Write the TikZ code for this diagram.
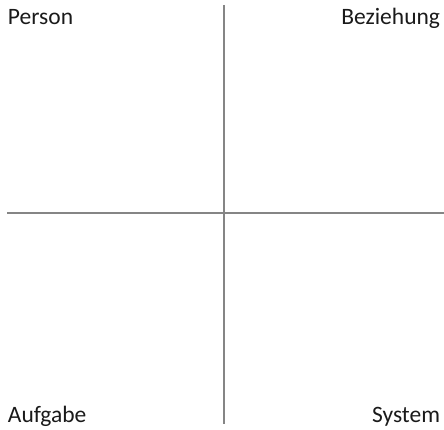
\documentclass[tikz,border=0pt]{standalone}
\usepackage{fontspec}
\setmainfont{Carlito}
\definecolor{axisgray}{HTML}{858585}
\definecolor{textcol}{HTML}{1A1A1A}
\begin{document}
\begin{tikzpicture}[x=1pt,y=1pt,
  axis/.style={draw=axisgray,line width=2.3pt},
  lbl/.style={inner sep=0pt,outer sep=0pt,text=textcol,font=\fontsize{23.5}{28}\selectfont}]
\useasboundingbox (0,0) rectangle (444,429);
\coordinate (vtop) at (224,424);
\coordinate (vbot) at (224,5);
\coordinate (hleft) at (7,216);
\coordinate (hright) at (444,216);
\draw[axis] (vtop) -- (vbot);
\draw[axis] (hleft) -- (hright);
\node[lbl,anchor=base west] (person) at (8,404) {Person};
\node[lbl,anchor=base east] (beziehung) at (440,404) {Beziehung};
\node[lbl,anchor=base west] (aufgabe) at (8,7) {Aufgabe};
\node[lbl,anchor=base east] (system) at (440,7) {System};
\end{tikzpicture}
\end{document}
